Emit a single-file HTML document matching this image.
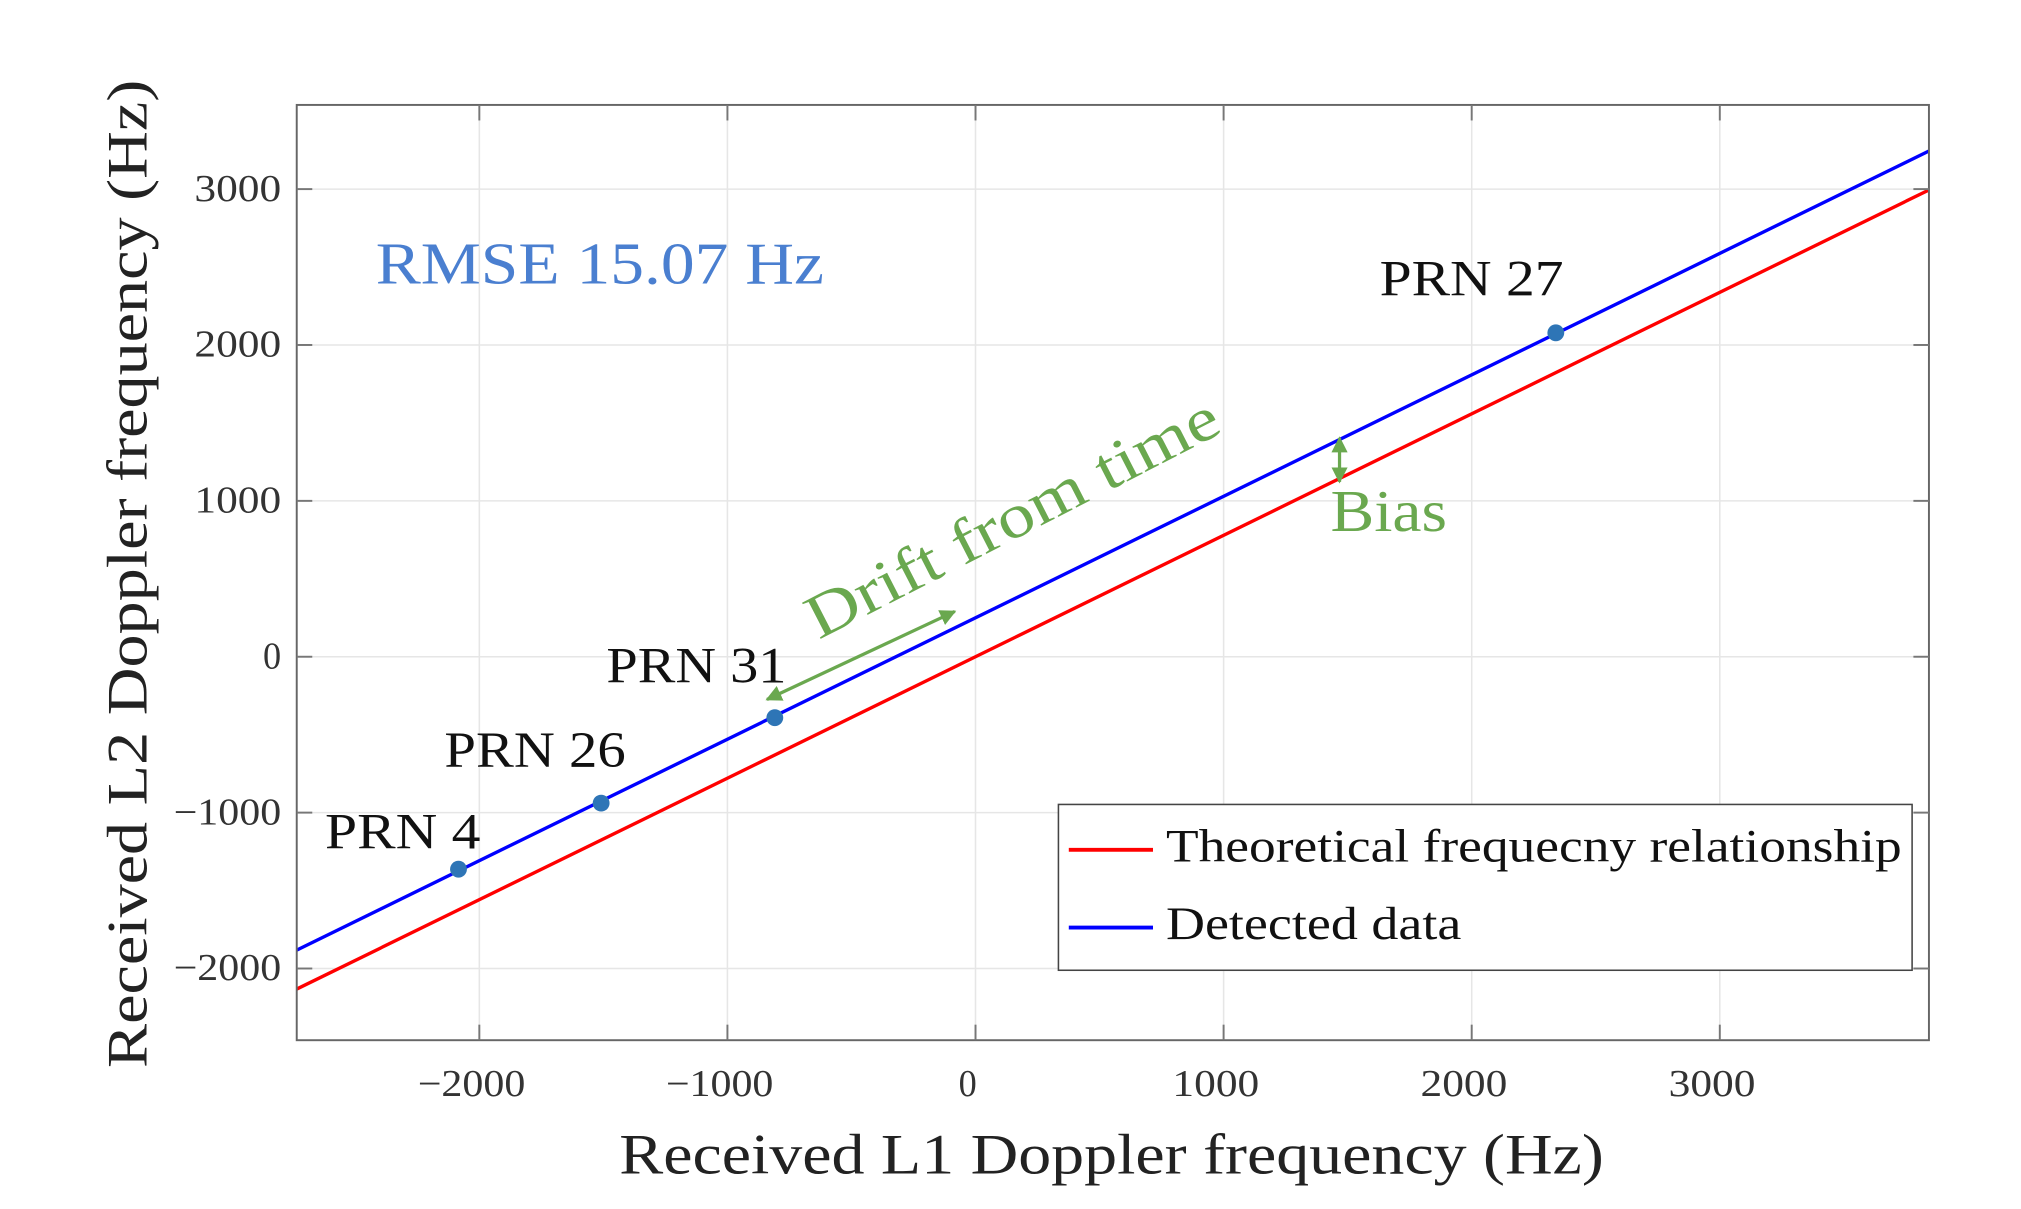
<!DOCTYPE html>
<html><head><meta charset="utf-8"><style>
html,body{margin:0;padding:0;background:#fff;}
svg{display:block;font-family:"Liberation Serif",serif;}
</style></head><body>
<svg id="chart" width="2021" height="1209" viewBox="0 0 1560 933.3" xmlns="http://www.w3.org/2000/svg">
<defs>
<marker id="ah" viewBox="0 0 10 10" refX="9" refY="5" markerWidth="5" markerHeight="5" orient="auto-start-reverse"><path d="M0,0 L10,5 L0,10 z" fill="#6aa84f"/></marker>
</defs>
<g id="grid"></g>
<g id="series"></g>
<rect x="229" y="81" width="1260" height="722" fill="none" stroke="#666" stroke-width="1.5"/>
<g id="ticks"></g>
<text x="858" y="906" font-size="44" text-anchor="middle" textLength="760" lengthAdjust="spacingAndGlyphs" fill="#222">Received L1 Doppler frequency (Hz)</text>
<text transform="translate(113,443) rotate(-90)" font-size="44" text-anchor="middle" textLength="763" lengthAdjust="spacingAndGlyphs" fill="#222">Received L2 Doppler frequency (Hz)</text>
<text x="290" y="219" font-size="46" textLength="346" lengthAdjust="spacingAndGlyphs" fill="#4a7fd0">RMSE 15.07 Hz</text>
<text transform="translate(632,494) rotate(-27.2)" font-size="48" textLength="352" lengthAdjust="spacingAndGlyphs" fill="#6aa84f">Drift from time</text>
<line x1="592" y1="540" x2="737" y2="472" stroke="#6aa84f" stroke-width="2.5" marker-start="url(#ah)" marker-end="url(#ah)"/>
<line x1="1034" y1="338" x2="1034" y2="372" stroke="#6aa84f" stroke-width="2.5" marker-start="url(#ah)" marker-end="url(#ah)"/>
<text x="1027" y="410" font-size="46" textLength="90" lengthAdjust="spacingAndGlyphs" fill="#6aa84f">Bias</text>
<g id="points"></g>
<g>
<rect x="817" y="621" width="659" height="128" fill="#fff" stroke="#444" stroke-width="1.2"/>
<line x1="825" y1="656" x2="890" y2="656" stroke="#f00" stroke-width="3"/>
<text x="900" y="665" font-size="36" textLength="568" lengthAdjust="spacingAndGlyphs" fill="#111">Theoretical frequecny relationship</text>
<line x1="825" y1="716" x2="890" y2="716" stroke="#00f" stroke-width="3"/>
<text x="900" y="725" font-size="36" textLength="228" lengthAdjust="spacingAndGlyphs" fill="#111">Detected data</text>
</g>
</svg>
<script>
const xTicks = [-2000, -1000, 0, 1000, 2000, 3000];
const yTicks = [-2000, -1000, 0, 1000, 2000, 3000];
const xTickLabels = ["\u22122000", "\u22121000", "0", "1000", "2000", "3000"];
const yTickLabels = ["\u22122000", "\u22121000", "0", "1000", "2000", "3000"];
const xDomain = [-2736, 3843];
const yDomain = [-2460, 3540];
const theoreticalSlope = [0.7792];
const theoreticalOffset = [0];
const detectedOffset = [250];
const prnNames = ["PRN 4", "PRN 26", "PRN 31", "PRN 27"];
const prnX = [-2084, -1509, -809, 2339];
const prnY = [-1363, -939, -391, 2078];
const L = 229, R = 1489, T = 81, B = 803;
const NS = "http://www.w3.org/2000/svg";
function sx(v){ return L + (v - xDomain[0]) / (xDomain[1] - xDomain[0]) * (R - L); }
function sy(v){ return B - (v - yDomain[0]) / (yDomain[1] - yDomain[0]) * (B - T); }
function mk(tag, attrs, parent){ const e = document.createElementNS(NS, tag); for (const k in attrs) e.setAttribute(k, attrs[k]); parent.appendChild(e); return e; }
function tlen(s){ return s.length >= 5 ? 83 : (s.length === 4 ? 67 : 14); }
const grid = document.getElementById('grid'), ticks = document.getElementById('ticks'), series = document.getElementById('series'), pts = document.getElementById('points');
xTicks.forEach((v, i) => {
  const x = sx(v);
  const g = mk('line', {x1:x, x2:x, y1:T, y2:B, stroke:'#e6e6e6', 'stroke-width':1.2}, grid);
  
  
  const t1 = mk('line', {x1:x, x2:x, y1:B, y2:B-12, stroke:'#777', 'stroke-width':1.5}, ticks);
  
  
  const t2 = mk('line', {x1:x, x2:x, y1:T, y2:T+12, stroke:'#777', 'stroke-width':1.5}, ticks);
  
  
  const lb = mk('text', {x:x-6, y:846, 'font-size':29, 'text-anchor':'middle', textLength:tlen(xTickLabels[i]), lengthAdjust:'spacingAndGlyphs', fill:'#333'}, ticks);
  lb.textContent = xTickLabels[i];
  
  
});
yTicks.forEach((v, i) => {
  const y = sy(v);
  const g = mk('line', {x1:L, x2:R, y1:y, y2:y, stroke:'#e6e6e6', 'stroke-width':1.2}, grid);
  
  
  const t1 = mk('line', {x1:L, x2:L+12, y1:y, y2:y, stroke:'#777', 'stroke-width':1.5}, ticks);
  
  
  const t2 = mk('line', {x1:R, x2:R-12, y1:y, y2:y, stroke:'#777', 'stroke-width':1.5}, ticks);
  
  
  const lb = mk('text', {x:217, y:y+9, 'font-size':29, 'text-anchor':'end', textLength:tlen(yTickLabels[i]), lengthAdjust:'spacingAndGlyphs', fill:'#333'}, ticks);
  lb.textContent = yTickLabels[i];
  
  
});
function lineFor(off, color, name){
  const a = xDomain[0], b = xDomain[1];
  const l = mk('line', {x1:sx(a), y1:sy(theoreticalSlope[0]*a+off), x2:sx(b), y2:sy(theoreticalSlope[0]*b+off), stroke:color, 'stroke-width':2.6}, series);
  
  
}
lineFor(theoreticalOffset[0], '#f00', 'theoretical-line');
lineFor(detectedOffset[0], '#00f', 'detected-line');
const lblOff = [[-103,-16],[-121,-28],[-130,-27],[-136,-29]];
const lblLen = [120, 140, 139, 142];
prnX.forEach((v, i) => {
  const c = mk('circle', {cx:sx(v), cy:sy(prnY[i]), r:6.5, fill:'#2e75b6'}, pts);
  
  
  const t = mk('text', {x:sx(v)+lblOff[i][0], y:sy(prnY[i])+lblOff[i][1], 'font-size':39, textLength:lblLen[i], lengthAdjust:'spacingAndGlyphs', fill:'#111'}, pts);
  t.textContent = prnNames[i];
  
  
});
</script>
</body></html>
